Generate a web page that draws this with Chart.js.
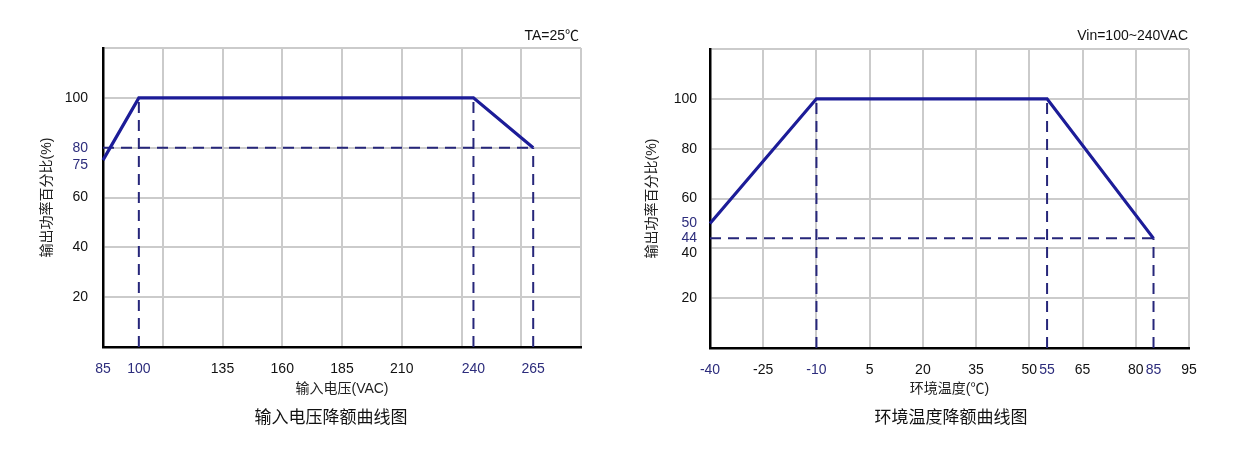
<!DOCTYPE html>
<html><head><meta charset="utf-8">
<script src="https://cdn.jsdelivr.net/npm/chart.js@4"></script>
<style>
html,body{margin:0;padding:0;background:#fff;width:1234px;height:452px;overflow:hidden;font-family:'Liberation Sans',Arial,'Noto Sans CJK SC',sans-serif;}
canvas{position:absolute;top:0;}
.note{position:absolute;font-size:14px;color:#111;line-height:16px;white-space:nowrap;}
.cap{position:absolute;font-size:17px;color:#111;line-height:20px;text-align:center;width:300px;font-family:'Noto Sans CJK SC',sans-serif;}
</style></head><body>
<canvas id="c1" width="600" height="452" style="left:0;width:600px;height:452px"></canvas>
<canvas id="c2" width="629" height="452" style="left:605px;width:629px;height:452px"></canvas>
<div class="note" style="right:655px;top:27px">TA=25℃</div>
<div class="note" style="right:46px;top:27px">Vin=100~240VAC</div>
<div class="cap" style="left:181px;top:406px">输入电压降额曲线图</div>
<div class="cap" style="left:801px;top:406px">环境温度降额曲线图</div>
<script>
// ---- Data: input-voltage derating ----
const voltX = [85, 100, 240, 265];
const voltPower = [75, 100, 100, 80];
const voltGridTicks = [85, 110, 135, 160, 185, 210, 235, 260, 285];
const voltLabelTicks = [85, 100, 135, 160, 185, 210, 240, 265];
const voltMarkedX = [85, 100, 240, 265];
const voltYLabelTicks = [20, 40, 60, 75, 80, 100];
const voltMarkedY = [75, 80];
const voltLowLabelY = [75];

// ---- Data: ambient-temperature derating ----
const tempX = [-40, -10, 55, 85];
const tempPower = [50, 100, 100, 44];
const tempGridTicks = [-40, -25, -10, 5, 20, 35, 50, 65, 80, 95];
const tempLabelTicks = [-40, -25, -10, 5, 20, 35, 50, 55, 65, 80, 85, 95];
const tempMarkedX = [-40, -10, 55, 85];
const tempYLabelTicks = [20, 40, 44, 50, 60, 80, 100];
const tempMarkedY = [44, 50];
const tempLowLabelY = [40];

const powerGridTicks = [0, 20, 40, 60, 80, 100, 120];

const FONT = "'Liberation Sans', Arial, 'Noto Sans CJK SC', sans-serif";
const NAVY = '#2c2c7c';
const LINE = '#1c1c98';
const DASH = '#26267a';
const GRID = '#cbcbcb';

function guides(xs, ys) {
  const sets = [];
  const n = xs.length;
  for (let i = 1; i < n; i++) {
    sets.push([{x: xs[i], y: 0}, {x: xs[i], y: ys[i]}]);
  }
  sets.push([{x: xs[0], y: ys[n - 1]}, {x: xs[n - 1], y: ys[n - 1]}]);
  return sets;
}

function axis(o) {
  const all = Array.from(new Set([...o.grid, ...o.labels])).sort((a, b) => a - b);
  const g = new Set(o.grid), l = new Set(o.labels), m = new Set(o.marked), low = new Set(o.low || []);
  return {
    type: 'linear', min: o.min, max: o.max,
    afterBuildTicks: s => { s.ticks = all.map(v => ({value: v})); },
    afterFit: s => { if (o.horizontal) s.height = o.size; else s.width = o.size; },
    grid: {
      color: c => (c.tick && g.has(c.tick.value)) ? GRID : 'rgba(0,0,0,0)',
      lineWidth: 2, drawTicks: false
    },
    border: {color: '#000', width: 2.5},
    ticks: {
      autoSkip: false, maxRotation: 0, padding: o.pad,
      font: c => ({family: FONT, size: 14, lineHeight: (c.tick && low.has(c.tick.value)) ? 0.7 : 1.2}),
      color: c => (c.tick && m.has(c.tick.value)) ? NAVY : '#111',
      callback: v => l.has(v) ? (low.has(v) ? ['', String(v)] : String(v)) : ''
    },
    title: {
      display: true, text: o.title, color: '#222',
      font: {family: FONT, size: 14},
      padding: o.titlePad
    }
  };
}

function makeChart(id, d) {
  const datasets = [{
    data: d.xs.map((x, i) => ({x, y: d.ys[i]})),
    borderColor: LINE, borderWidth: 3.2, pointRadius: 0, tension: 0,
    borderJoinStyle: 'miter', clip: 4
  }];
  guides(d.xs, d.ys).forEach(seg => datasets.push({
    data: seg, borderColor: DASH, borderWidth: 2, borderDash: [11, 7],
    pointRadius: 0, clip: 4
  }));
  return new Chart(document.getElementById(id), {
    type: 'line',
    data: {datasets},
    options: {
      responsive: false, animation: false, devicePixelRatio: 1,
      layout: {padding: d.padding},
      plugins: {legend: {display: false}, tooltip: {enabled: false}},
      scales: {
        x: axis({horizontal: true, size: d.xh, min: d.xmin, max: d.xmax, grid: d.xgrid,
                 labels: d.xlabels, marked: d.xmarked, pad: 14, title: d.xtitle,
                 titlePad: {top: 0, bottom: 54}}),
        y: axis({horizontal: false, size: d.yw, min: 0, max: 120, grid: powerGridTicks,
                 labels: d.ylabels, marked: d.ymarked, low: d.ylow, pad: d.ypad, title: '输出功率百分比(%)',
                 titlePad: {top: 39, bottom: 0}})
      }
    }
  });
}

makeChart('c1', {
  xs: voltX, ys: voltPower, xmin: 85, xmax: 285,
  xgrid: voltGridTicks, xlabels: voltLabelTicks, xmarked: voltMarkedX,
  ylabels: voltYLabelTicks, ymarked: voltMarkedY, ylow: voltLowLabelY,
  xtitle: '输入电压(VAC)', padding: {top: 48, right: 19, left: 0, bottom: 0},
  xh: 105, yw: 103, ypad: 15
});
makeChart('c2', {
  xs: tempX, ys: tempPower, xmin: -40, xmax: 95,
  xgrid: tempGridTicks, xlabels: tempLabelTicks, xmarked: tempMarkedX,
  ylabels: tempYLabelTicks, ymarked: tempMarkedY, ylow: tempLowLabelY,
  xtitle: '环境温度(℃)', padding: {top: 49, right: 45, left: 0, bottom: 0},
  xh: 104, yw: 105, ypad: 13
});
</script>
</body></html>
